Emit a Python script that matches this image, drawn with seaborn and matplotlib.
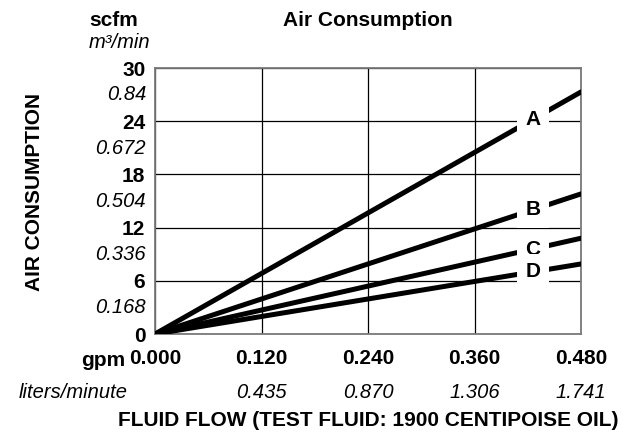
import numpy as np
import pandas as pd
import matplotlib
matplotlib.use("Agg")
import matplotlib.pyplot as plt
import seaborn as sns

# data
flow_gpm = [0.0, 0.48]
air_scfm = {
    "A": [0.0, 27.3],
    "B": [0.0, 15.8],
    "C": [0.0, 10.8],
    "D": [0.0, 7.9],
}
x_ticks = [0.0, 0.12, 0.24, 0.36, 0.48]
x_labels = ["0.000", "0.120", "0.240", "0.360", "0.480"]
x_labels_lpm = ["", "0.435", "0.870", "1.306", "1.741"]
y_ticks = [0, 6, 12, 18, 24, 30]
y_labels = ["0", "6", "12", "18", "24", "30"]
y_labels_m3 = ["", "0.168", "0.336", "0.504", "0.672", "0.84"]
label_x = 0.426  # where the curve letters sit

rows = []
for name, vals in air_scfm.items():
    for f, v in zip(flow_gpm, vals):
        rows.append({"flow": f, "air": v, "curve": name})
df = pd.DataFrame(rows)

sns.set_theme(style="white")
plt.rcParams["font.family"] = ["Liberation Sans", "DejaVu Sans"]
plt.rcParams["text.color"] = "black"
plt.rcParams["axes.labelcolor"] = "black"

BIG = 15
SMALL = 14.5

fig = plt.figure(figsize=(6.31, 4.40), dpi=100)
ax = fig.add_axes([155 / 631, 1 - 334 / 440, 426 / 631, 266 / 440])

sns.lineplot(data=df, x="flow", y="air", units="curve", estimator=None,
             color="black", linewidth=3.6, legend=False, ax=ax, zorder=3)

ax.set_xlim(0, 0.48)
ax.set_ylim(0, 30)
ax.set_xticks(x_ticks)
ax.set_xticklabels(x_labels, fontweight="bold", fontsize=BIG)
ax.set_yticks(y_ticks)
ax.set_yticklabels(y_labels, fontweight="bold", fontsize=BIG)
ax.tick_params(axis="x", length=0, pad=11, colors="black")
ax.tick_params(axis="y", length=0, pad=7, colors="black")
ax.grid(True, color="black", linewidth=0.9)
for s in ax.spines.values():
    s.set_color("#7a7a7a")
    s.set_linewidth(1.3)

# secondary (metric) labels
for t, lab in zip(y_ticks, y_labels_m3):
    if lab:
        ax.annotate(lab, xy=(0, t), xycoords=ax.get_yaxis_transform(),
                    xytext=(-9, -27), textcoords="offset pixels",
                    ha="right", va="center", fontstyle="italic", fontsize=SMALL)
for t, lab in zip(x_ticks, x_labels_lpm):
    if lab:
        ax.annotate(lab, xy=(t, 0), xycoords=ax.get_xaxis_transform(),
                    xytext=(0, -58), textcoords="offset pixels",
                    ha="center", va="center", fontstyle="italic", fontsize=SMALL)

# curve letters on the lines
for name, vals in air_scfm.items():
    yv = vals[1] * label_x / flow_gpm[1]
    ax.text(label_x, yv, name, ha="center", va="center", fontweight="bold",
            fontsize=BIG, zorder=5,
            bbox=dict(boxstyle="square,pad=0.4", fc="white", ec="none"))

ax.set_title("Air Consumption", fontweight="bold", fontsize=BIG, pad=30)
ax.set_xlabel("FLUID FLOW (TEST FLUID: 1900 CENTIPOISE OIL)",
              fontweight="bold", fontsize=BIG)
ax.xaxis.set_label_coords(0.5, (334 - 420) / 266)
ax.xaxis.label.set_va("center")
ax.set_ylabel("AIR CONSUMPTION", fontweight="bold", fontsize=BIG)
ax.yaxis.set_label_coords((35 - 155) / 426, (334 - 192) / 266)
ax.yaxis.label.set_va("center")

# unit captions
fig.text(89 / 631, 1 - 20 / 440, "scfm", fontweight="bold", fontsize=BIG,
         ha="left", va="center")
fig.text(89 / 631, 1 - 43 / 440, "m³/min", fontstyle="italic", fontsize=SMALL,
         ha="left", va="center")
fig.text(125 / 631, 1 - 360 / 440, "gpm", fontweight="bold", fontsize=BIG,
         ha="right", va="center")
fig.text(128 / 631, 1 - 392 / 440, "liters/minute", fontstyle="italic",
         fontsize=SMALL, ha="right", va="center")

fig.savefig("out.png", dpi=100)
